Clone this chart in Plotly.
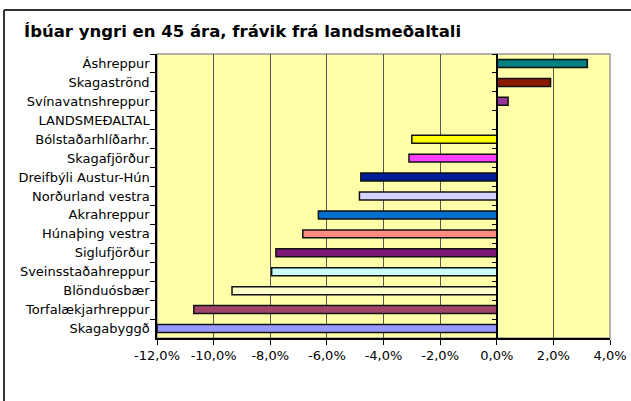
import plotly.graph_objects as go

categories = ["Áshreppur", "Skagaströnd", "Svínavatnshreppur", "LANDSMEÐALTAL",
              "Bólstaðarhlíðarhr.", "Skagafjörður", "Dreifbýli Austur-Hún",
              "Norðurland vestra", "Akrahreppur", "Húnaþing vestra", "Siglufjörður",
              "Sveinsstaðahreppur", "Blönduósbær", "Torfalækjarhreppur", "Skagabyggð"]
values = [3.2, 1.9, 0.4, 0.0, -3.0, -3.1, -4.8, -4.85, -6.3, -6.85, -7.8,
          -7.95, -9.35, -10.7, -12.0]
colors = ["#008080", "#8B1A00", "#993399", "#FFFFFF", "#FFFF00", "#FF40FF",
          "#001C96", "#D4D4FF", "#0070CC", "#FF8C80", "#7B1A77", "#CCFFFF",
          "#FFFFCC", "#A0456A", "#9999FF"]
x_ticks = [-12, -10, -8, -6, -4, -2, 0, 2, 4]
x_tick_text = [f"{v:.1f}%".replace(".", ",") for v in x_ticks]

W, H = 631, 401
L, R, T, B = 157, 21, 54, 63
pw, ph = W - L - R, H - T - B


def px_x(p):
    return (p - L) / pw


def px_y(p):
    return (H - B - p) / ph


fig = go.Figure()
fig.add_trace(go.Bar(
    y=categories, x=values, orientation="h",
    marker=dict(color=colors, line=dict(color="#111111", width=1.5)),
    width=0.42, showlegend=False, hoverinfo="x+y",
))
# invisible trace to carry the category axis drawn at x = 0
fig.add_trace(go.Scatter(
    y=categories, x=[0] * len(categories), yaxis="y2", mode="markers",
    marker=dict(opacity=0), showlegend=False, hoverinfo="skip",
))

cat_range = [len(categories) - 0.5, -0.5]
zero_pos = (0 - x_ticks[0]) / (x_ticks[-1] - x_ticks[0])

frame_line = dict(color="#333333", width=2)

fig.update_layout(
    width=W, height=H,
    margin=dict(l=L, r=R, t=T, b=B, pad=0, autoexpand=False),
    paper_bgcolor="white",
    plot_bgcolor="#FFFFAA",
    font=dict(family="DejaVu Sans", size=13, color="black"),
    title=dict(text="<b>Íbúar yngri en 45 ára, frávik frá landsmeðaltali</b>",
               font=dict(family="DejaVu Sans", size=16.5, color="black"),
               xref="container", x=24 / W, xanchor="left",
               yref="container", y=1 - 31 / H, yanchor="middle"),
    xaxis=dict(range=[x_ticks[0], x_ticks[-1]], tickvals=x_ticks, ticktext=x_tick_text,
               showgrid=True, gridcolor="#555555", gridwidth=1,
               zeroline=False, automargin=False,
               showline=True, linecolor="black", linewidth=1.5,
               ticks="outside", ticklen=5, tickcolor="black", tickwidth=1,
               tickfont=dict(size=13)),
    yaxis=dict(type="category", categoryorder="array", categoryarray=categories,
               range=cat_range, showgrid=False, zeroline=False, automargin=False,
               showline=True, linecolor="black", linewidth=1.5,
               ticks="outside", ticklen=5, tickcolor="black", tickson="boundaries",
               tickfont=dict(size=13), ticklabelstandoff=3),
    yaxis2=dict(type="category", categoryorder="array", categoryarray=categories,
                range=cat_range, overlaying="y", anchor="free", position=zero_pos,
                showgrid=False, zeroline=False, showticklabels=False, automargin=False,
                showline=True, linecolor="black", linewidth=1.5,
                ticks="outside", ticklen=4, tickcolor="black", tickson="boundaries"),
    shapes=[
        dict(type="rect", xref="paper", yref="paper", x0=0, x1=1, y0=0, y1=1,
             line=dict(color="#999999", width=1.5), layer="below"),
        # outer chart frame (top and left edges visible in the window)
        dict(type="line", xref="paper", yref="paper",
             x0=px_x(4), x1=px_x(W + 10), y0=px_y(10), y1=px_y(10),
             line=frame_line, layer="above"),
        dict(type="line", xref="paper", yref="paper",
             x0=px_x(4), x1=px_x(4), y0=px_y(10), y1=px_y(H + 10),
             line=frame_line, layer="above"),
    ],
)

fig.write_html("out.html",
               config={"displayModeBar": False},
               post_script="document.body.style.margin='0';document.body.style.padding='0';")
